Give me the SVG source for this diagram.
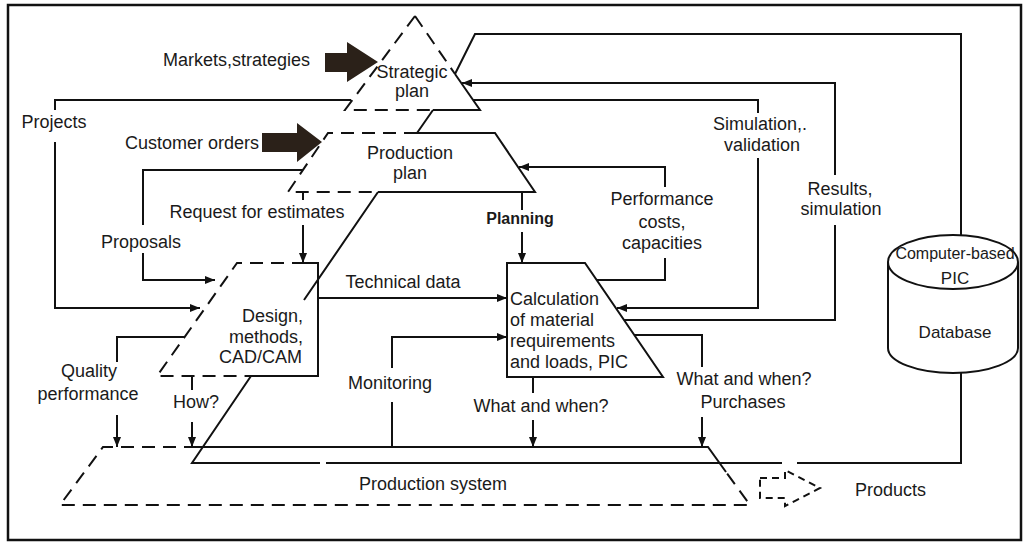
<svg xmlns="http://www.w3.org/2000/svg" width="1029" height="543" viewBox="0 0 1029 543">
<style>
.s{fill:none;stroke:#111;stroke-width:2;stroke-linejoin:miter}
.d{fill:none;stroke:#111;stroke-width:2;stroke-dasharray:13 8}
.t{font-family:"Liberation Sans",Arial,sans-serif;font-size:18px;fill:#1a1a1a;text-anchor:middle}
.l{text-anchor:start}
.r{text-anchor:end}
.big{fill:#2b2119;stroke:none}
.a{fill:none;stroke:#111;stroke-width:2;marker-end:url(#ah)}
</style>
<defs>
<marker id="ah" viewBox="0 0 10 8" refX="10" refY="4" markerWidth="10" markerHeight="8" markerUnits="userSpaceOnUse" orient="auto">
<path d="M0,0 L10,4 L0,8 z" fill="#111"/>
</marker>
</defs>
<rect x="0" y="0" width="1029" height="543" fill="#fff"/>
<rect x="8" y="5" width="1013" height="535" fill="none" stroke="#111" stroke-width="2.5"/>

<g id="strategic-plan">
<path class="d" d="M415,16 L345,110 L433,110 M415,16 L455,74"/>
<path class="s" d="M455,74 L480,110 L433,110"/>
<text class="t" x="412" y="78">Strategic</text>
<text class="t" x="412" y="97">plan</text>
</g>

<g id="production-plan">
<path class="d" d="M417,133 L328,133 L288,192 L378,192"/>
<path class="s" d="M417,133 L495,133 L535,192 L378,192"/>
<text class="t" x="410" y="159">Production</text>
<text class="t" x="410" y="179">plan</text>
</g>

<g id="design">
<path class="d" d="M305,263 L237,263 L157,376 L253,376"/>
<path class="s" d="M305,263 L318,263 L318,376 L253,376"/>
<text class="t r" x="303" y="322">Design,</text>
<text class="t r" x="303" y="343">methods,</text>
<text class="t r" x="302" y="363">CAD/CAM</text>
</g>

<g id="calculation">
<path class="s" d="M507,263 L585,263 L663,377 L507,377 Z"/>
<text class="t l" x="510" y="305">Calculation</text>
<text class="t l" x="510" y="326">of material</text>
<text class="t l" x="510" y="347">requirements</text>
<text class="t l" x="510" y="368">and loads, PIC</text>
</g>

<g id="production-system">
<path class="d" d="M197,447 L103,447 L60,505 L750,505 L726,472"/>
<path class="s" d="M197,447 L708,447 L726,472"/>
<text class="t" x="433" y="490">Production system</text>
</g>

<g id="database">
<path class="s" d="M888,262 L888,348 A65,25 0 0 0 1018,348 L1018,262"/>
<ellipse class="s" cx="953" cy="262" rx="65" ry="27"/>
<text class="t" x="955" y="259" style="font-size:16px">Computer-based</text>
<text class="t" x="955" y="284" style="font-size:17px">PIC</text>
<text class="t" x="955" y="338" style="font-size:17px">Database</text>
</g>

<g id="products">
<path class="d" style="stroke-dasharray:7 5" d="M760,478 L785,478 L785,470 L820,488 L785,506 L785,498 L760,498 Z"/>
<text class="t l" x="855" y="496">Products</text>
</g>

<g id="inputs">
<polygon class="big" points="325,53 347,53 347,42 378,62 347,82 347,72 325,72"/>
<text class="t l" x="163" y="66">Markets,strategies</text>
<polygon class="big" points="262,133 297,133 297,123 322,142 297,162 297,152 262,152"/>
<text class="t l" x="125" y="149">Customer orders</text>
</g>

<g id="connectors">
<path class="s" d="M433,110 L417,133 M378,192 L304,300 M251,376 L192,463 L320,463 M326,463 L782,463 M797,463 L961,463 L961,373"/>
<path class="s" d="M455,74 L475,34 L961,34 L961,235"/>
<path class="s" d="M351,100 L55,100 L55,110"/>
<path class="a" d="M55,142 L55,308 L200,308"/>
<text class="t" x="54" y="128">Projects</text>
<path class="s" d="M303,170 L143,170 L143,225"/>
<path class="a" d="M143,253 L143,280 L215,280"/>
<text class="t" x="141" y="248">Proposals</text>
<path class="s" d="M303,192 L303,200"/>
<path class="a" d="M303,225 L303,263"/>
<text class="t" x="257" y="218">Request for estimates</text>
<path class="s" d="M522,192 L522,210"/>
<path class="a" d="M522,232 L522,263"/>
<text class="t" x="520" y="224" style="font-weight:bold;font-size:16px">Planning</text>
<path class="s" d="M597,280 L665,280 L665,258"/>
<path class="a" d="M665,187 L665,167 L519,167"/>
<text class="t" x="662" y="205">Performance</text>
<text class="t" x="662" y="228">costs,</text>
<text class="t" x="662" y="249">capacities</text>
<path class="a" d="M758,158 L758,308 L617,308"/>
<path class="s" d="M758,113 L758,100 L473,100"/>
<text class="t" x="760" y="130">Simulation,.</text>
<text class="t" x="762" y="151">validation</text>
<path class="s" d="M624,320 L835,320 L835,225"/>
<path class="a" d="M835,175 L835,83 L462,83"/>
<text class="t" x="840" y="195">Results,</text>
<text class="t" x="841" y="215">simulation</text>
<path class="a" d="M318,298 L507,298"/>
<text class="t" x="403" y="288">Technical data</text>
<path class="s" d="M392,447 L392,402"/>
<path class="a" d="M392,368 L392,337 L507,337"/>
<text class="t" x="390" y="389">Monitoring</text>
<path class="s" d="M185,337 L117,337 L117,362"/>
<path class="a" d="M117,415 L117,447"/>
<text class="t" x="89" y="377">Quality</text>
<text class="t" x="88" y="400">performance</text>
<path class="s" d="M192,376 L192,390"/>
<path class="a" d="M192,422 L192,447"/>
<text class="t" x="196" y="408">How?</text>
<path class="s" d="M533,377 L533,393"/>
<path class="a" d="M533,420 L533,447"/>
<text class="t" x="541" y="412">What and when?</text>
<path class="s" d="M634,335 L702,335 L702,367"/>
<path class="a" d="M702,417 L702,447"/>
<text class="t" x="744" y="385">What and when?</text>
<text class="t" x="743" y="408">Purchases</text>
</g>
</svg>
